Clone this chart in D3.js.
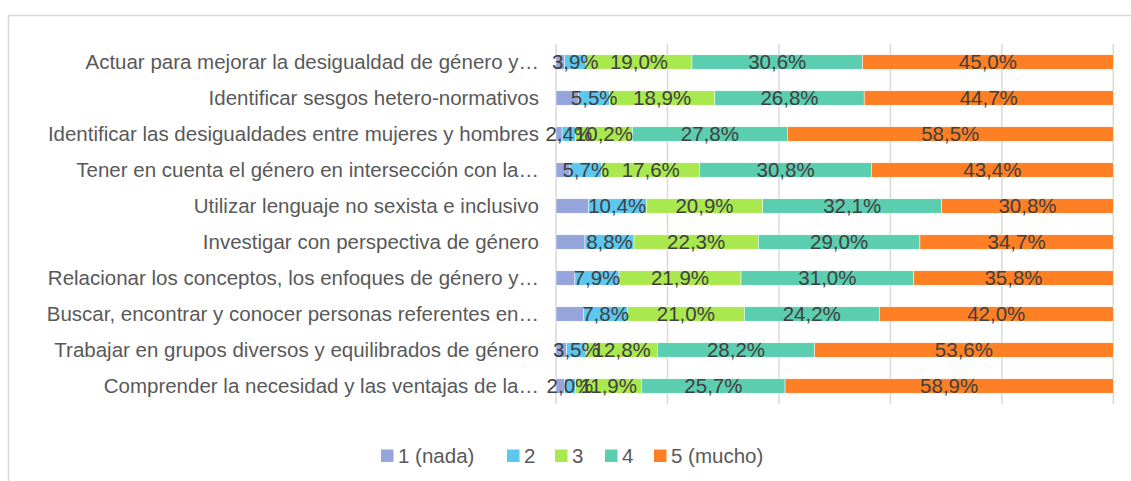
<!DOCTYPE html>
<html>
<head>
<meta charset="utf-8">
<script src="https://cdn.jsdelivr.net/npm/d3@7"></script>
<style>
    body { margin: 0; background: #fff; }
    svg { font-family: 'Liberation Sans', Arial, sans-serif; }
</style>
</head>
<body>
<div class="chart-container"></div>
<script>
// Data
const categories = [
    'Actuar para mejorar la desigualdad de género y…',
    'Identificar sesgos hetero-normativos',
    'Identificar las desigualdades entre mujeres y hombres',
    'Tener en cuenta el género en intersección con la…',
    'Utilizar lenguaje no sexista e inclusivo',
    'Investigar con perspectiva de género',
    'Relacionar los conceptos, los enfoques de género y…',
    'Buscar, encontrar y conocer personas referentes en…',
    'Trabajar en grupos diversos y equilibrados de género',
    'Comprender la necesidad y las ventajas de la…'
];
const seriesNames = ['1 (nada)', '2', '3', '4', '5 (mucho)'];
const s1 = [1.5, 4.1, 1.1, 2.5, 5.8, 5.2, 3.4, 5.0, 1.9, 1.5];
const s2 = [3.9, 5.5, 2.4, 5.7, 10.4, 8.8, 7.9, 7.8, 3.5, 2.0];
const s3 = [19.0, 18.9, 10.2, 17.6, 20.9, 22.3, 21.9, 21.0, 12.8, 11.9];
const s4 = [30.6, 26.8, 27.8, 30.8, 32.1, 29.0, 31.0, 24.2, 28.2, 25.7];
const s5 = [45.0, 44.7, 58.5, 43.4, 30.8, 34.7, 35.8, 42.0, 53.6, 58.9];
const showLabels = [false, true, true, true, true];
const xTicks = [0, 20, 40, 60, 80, 100];
const colors = ['#96a5dc', '#5cc8f0', '#aae850', '#5cceb0', '#ff8024'];

const table = categories.map((c, i) => ({
    cat: c, s0: s1[i], s1: s2[i], s2: s3[i], s3: s4[i], s4: s5[i]
}));
const keys = ['s0', 's1', 's2', 's3', 's4'];

const svgWidth = 1131;
const svgHeight = 481;
const margin = { top: 44, left: 556, right: 18, bottom: 77 };
const width = 1113.3 - margin.left;
const height = 404 - margin.top;
const fontSize = '20.5px';

const svg = d3.select('.chart-container')
    .append('svg')
    .attr('width', svgWidth)
    .attr('height', svgHeight);

// chart border
svg.append('rect')
    .attr('x', 8.5).attr('y', 15.5)
    .attr('width', 1140).attr('height', 480)
    .attr('fill', 'none')
    .attr('stroke', '#d9d9d9')
    .attr('stroke-width', 1.5);

const g = svg.append('g')
    .attr('transform', 'translate(' + margin.left + ',' + margin.top + ')');

const xScale = d3.scaleLinear().domain([0, 100]).range([0, width]);
const yScale = d3.scaleBand().domain(categories).range([0, height]).paddingInner(0.6).paddingOuter(0.3);

// gridlines
g.selectAll('.grid')
    .data(xTicks)
    .enter()
    .append('line')
    .attr('x1', d => xScale(d)).attr('x2', d => xScale(d))
    .attr('y1', 0).attr('y2', height)
    .attr('stroke', '#d9d9d9')
    .attr('stroke-width', 1.5);

// category axis
const yAxis = d3.axisLeft(yScale).tickSize(0).tickPadding(17);
const yAxisDraw = g.append('g').call(yAxis);
yAxisDraw.select('.domain').remove();
yAxisDraw.selectAll('text')
    .style('font-size', fontSize)
    .style('font-family', "'Liberation Sans', Arial, sans-serif")
    .attr('fill', '#595959');

// stacks
const stack = d3.stack().keys(keys)(table);

const layers = g.selectAll('.layer')
    .data(stack)
    .enter()
    .append('g')
    .attr('fill', (d, i) => colors[i]);

layers.selectAll('rect')
    .data(d => d)
    .enter()
    .append('rect')
    .attr('x', d => xScale(d[0]))
    .attr('y', d => yScale(d.data.cat))
    .attr('width', d => xScale(d[1]) - xScale(d[0]))
    .attr('height', yScale.bandwidth())
    .attr('stroke', '#fff')
    .attr('stroke-width', 0.5);

// data labels
const fmt = v => v.toFixed(1).replace('.', ',') + '%';
stack.forEach((layer, i) => {
    if (!showLabels[i]) return;
    g.append('g')
        .selectAll('text')
        .data(layer)
        .enter()
        .append('text')
        .attr('x', d => (xScale(d[0]) + xScale(d[1])) / 2)
        .attr('y', d => yScale(d.data.cat) + yScale.bandwidth() / 2)
        .attr('dy', '0.35em')
        .attr('text-anchor', 'middle')
        .style('font-size', fontSize)
        .attr('fill', '#404040')
        .text(d => fmt(d[1] - d[0]));
});

// legend
const legendX = [381, 507, 555, 605, 654];
const legend = svg.append('g').attr('transform', 'translate(0,456)');
seriesNames.forEach((name, i) => {
    legend.append('rect')
        .attr('x', legendX[i]).attr('y', -6.5)
        .attr('width', 12.5).attr('height', 12.5)
        .attr('fill', colors[i]);
    legend.append('text')
        .attr('x', legendX[i] + 17).attr('y', 0)
        .attr('dy', '0.35em')
        .style('font-size', fontSize)
        .attr('fill', '#595959')
        .text(name);
});
</script>
</body>
</html>
